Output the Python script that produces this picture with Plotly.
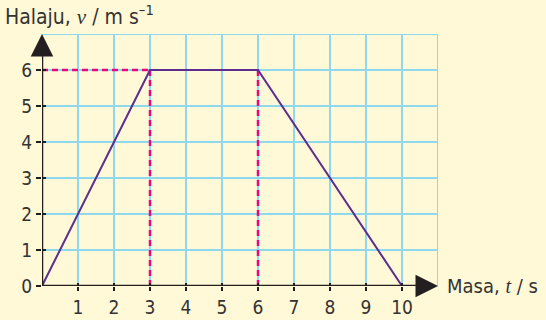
import plotly.graph_objects as go

# Data
time_s = [0, 3, 6, 10]
velocity = [0, 6, 6, 0]
x_ticks = [1, 2, 3, 4, 5, 6, 7, 8, 9, 10]
y_ticks = [0, 1, 2, 3, 4, 5, 6]
guide_times = [3, 6]
guide_v = 6
x_max = 11
y_max = 7

BG = "#FFF9D7"
GRID = "#8FD8EE"
AXIS = "#231F20"
PURPLE = "#5A2D8F"
MAGENTA = "#E5097F"
TXT = "#333333"
FONT = "DejaVu Sans Condensed, Liberation Sans Narrow, sans-serif"

fig = go.Figure()

# dashed guide lines
fig.add_trace(go.Scatter(x=[0, guide_times[0]], y=[guide_v, guide_v], mode="lines",
                         line=dict(color=MAGENTA, width=2.5, dash="6px,4px"),
                         hoverinfo="skip", showlegend=False))
for t in guide_times:
    fig.add_trace(go.Scatter(x=[t, t], y=[0, guide_v], mode="lines",
                             line=dict(color=MAGENTA, width=2.5, dash="6px,4px"),
                             hoverinfo="skip", showlegend=False))

# velocity-time graph
fig.add_trace(go.Scatter(x=time_s, y=velocity, mode="lines",
                         line=dict(color=PURPLE, width=2),
                         hoverinfo="skip", showlegend=False))

# invisible trace on overlay axes (for inward tick halves)
fig.add_trace(go.Scatter(x=[None], y=[None], xaxis="x2", yaxis="y2",
                         hoverinfo="skip", showlegend=False))

# axis lines
fig.add_shape(type="line", x0=0, x1=x_max - 0.3, y0=0, y1=0, xref="x", yref="y",
              line=dict(color=AXIS, width=2.5), layer="above")
fig.add_shape(type="line", x0=0, x1=0, y0=0, y1=y_max - 0.3, xref="x", yref="y",
              line=dict(color=AXIS, width=2.5), layer="above")

# arrowheads
fig.add_annotation(x=x_max, y=0, ax=x_max - 0.6, ay=0, xref="x", yref="y", axref="x", ayref="y",
                   showarrow=True, arrowhead=2, arrowsize=1.8, arrowwidth=2.5,
                   arrowcolor=AXIS, text=" ")
fig.add_annotation(x=0, y=y_max, ax=0, ay=y_max - 0.6, xref="x", yref="y", axref="x", ayref="y",
                   showarrow=True, arrowhead=2, arrowsize=1.8, arrowwidth=2.5,
                   arrowcolor=AXIS, text=" ")

# axis titles
fig.add_annotation(x=x_max, y=0, xref="x", yref="y", xanchor="left", yanchor="middle",
                   xshift=7, showarrow=False,
                   text="Masa, <span style='font-family:Liberation Serif, serif'><i>t</i></span> / s",
                   font=dict(family=FONT, size=20, color=TXT))
fig.add_annotation(x=0, y=1, xref="paper", yref="paper", xanchor="left", yanchor="bottom",
                   xshift=-39, yshift=3, showarrow=False,
                   text="Halaju, <span style='font-family:Liberation Serif, serif'><i>v</i></span> / m s<sup>–1</sup>",
                   font=dict(family=FONT, size=21, color=TXT))

tick_font = dict(family=FONT, size=19, color=TXT)
fig.update_layout(
    xaxis=dict(range=[0, x_max], tickvals=x_ticks, ticktext=[str(v) for v in x_ticks],
               showgrid=True, gridcolor=GRID, gridwidth=2,
               ticks="outside", ticklen=4, tickwidth=2, tickcolor=AXIS,
               showline=False, zeroline=False, automargin=False,
               tickfont=tick_font, fixedrange=True),
    yaxis=dict(range=[0, y_max], tickvals=y_ticks, ticktext=[str(v) for v in y_ticks],
               showgrid=True, gridcolor=GRID, gridwidth=2,
               ticks="outside", ticklen=5, tickwidth=2, tickcolor=AXIS,
               showline=False, zeroline=False, automargin=False,
               tickfont=tick_font, fixedrange=True),
    xaxis2=dict(range=[0, x_max], tickvals=x_ticks, overlaying="x", anchor="y2", side="bottom",
                showgrid=False, ticks="inside", ticklen=3, tickwidth=2, tickcolor=AXIS,
                showticklabels=False, zeroline=False, showline=False, automargin=False,
                fixedrange=True),
    yaxis2=dict(range=[0, y_max], tickvals=y_ticks, overlaying="y", anchor="x2", side="left",
                showgrid=False, ticks="inside", ticklen=4, tickwidth=2, tickcolor=AXIS,
                showticklabels=False, zeroline=False, showline=False, automargin=False,
                fixedrange=True),
)

# grid lines at the far edges (x=11, y=7)
fig.add_shape(type="line", x0=x_max, x1=x_max, y0=0, y1=y_max, xref="x", yref="y",
              line=dict(color=GRID, width=2), layer="below")
fig.add_shape(type="line", x0=0, x1=x_max, y0=y_max, y1=y_max, xref="x", yref="y",
              line=dict(color=GRID, width=2), layer="below")

fig.update_layout(width=546, height=320, margin=dict(l=42, r=108, t=34, b=34),
                  paper_bgcolor=BG, plot_bgcolor=BG, showlegend=False)

fig.write_html("out.html", config={"displayModeBar": False, "staticPlot": True},
               post_script="document.body.style.margin='0';document.body.style.overflow='hidden';"
                           "document.body.style.background='" + BG + "';")
